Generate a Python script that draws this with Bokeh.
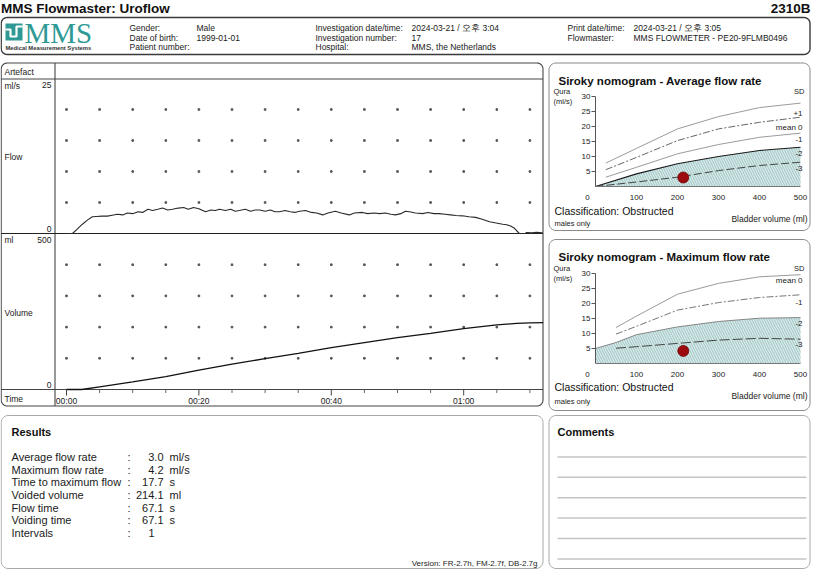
import numpy as np
from bokeh.plotting import figure
from bokeh.models import Range1d
from bokeh.core.properties import value
from bokeh.embed import file_html
from bokeh.resources import INLINE

report_title = "MMS Flowmaster: Uroflow"
report_id = "2310B"
patient_labels = ["Gender:", "Date of birth:", "Patient number:"]
patient_values = ["Male", "1999-01-01", ""]
invest_labels = ["Investigation date/time:", "Investigation number:", "Hospital:"]
invest_values = ["2024-03-21 / 오후 3:04", "17", "MMS, the Netherlands"]
print_labels = ["Print date/time:", "Flowmaster:"]
print_values = ["2024-03-21 / 오후 3:05", "MMS FLOWMETER - PE20-9FLMB0496"]

# flow curve (s, ml/s)
flow_t = [0, 0.9, 1.5, 2.4, 3.2, 3.9, 4.5, 5.4, 6.2, 6.9, 7.7, 8.5, 9.2, 10.0, 10.8,
          11.5, 12.3, 13.0, 13.8, 14.5, 15.3, 16.0, 16.9, 17.7, 18.4, 19.2, 20.0, 21.0,
          21.8, 22.5, 23.1, 24.0, 24.8, 25.5, 26.1, 27.0, 27.8, 28.5, 29.2, 30.0, 30.8,
          31.5, 32.2, 33.0, 33.8, 34.5, 35.2, 36.1, 37.0, 37.8, 38.7, 39.5, 40.6, 41.5,
          42.7, 43.5, 44.7, 45.5, 46.5, 47.3, 48.2, 49.0, 49.7, 50.5, 51.2, 51.8, 52.7,
          53.8, 54.6, 55.5, 56.3, 57.2, 58.0, 58.8, 59.8, 60.8, 61.8, 62.8, 63.9, 64.9,
          65.9, 66.5, 67.1, 67.6, 68.4, 69.3, 69.5, 70.3, 71.0, 71.9]
flow_v = [0.0, 0.0, 0.6, 1.5, 2.2, 2.7, 2.75, 2.8, 2.8, 2.95, 3.1, 3.0, 3.3, 3.2, 3.5,
          3.4, 3.9, 3.7, 3.9, 4.1, 3.8, 3.9, 4.1, 4.2, 3.9, 4.2, 4.0, 3.5,
          3.8, 3.7, 3.9, 3.7, 3.9, 3.6, 3.7, 3.9, 3.6, 3.8, 3.8, 3.6, 3.8,
          3.5, 3.5, 3.7, 3.5, 3.4, 3.6, 3.7, 3.4, 3.3, 3.0, 3.3, 3.6, 3.3,
          3.0, 3.3, 3.4, 3.2, 3.3, 3.2, 3.3, 3.1, 3.0, 3.2, 3.6, 3.5, 3.3,
          3.2, 3.4, 3.2, 3.2, 3.1, 3.0, 2.9, 2.85, 2.7, 2.6, 2.3, 1.9, 1.7,
          1.5, 1.4, 1.2, 0.9, 0.0, 0.0, 0.15, 0.1, 0.2, 0.1]

# volume curve (s, ml)
vol_t = [0, 2.3, 5, 10, 15, 20, 25, 30, 35, 40, 45, 50, 55, 60, 65, 68, 70, 72]
vol_v = [0, 0, 8.6, 24.6, 41.6, 62, 81, 99, 116, 134, 150, 166, 180, 195, 207, 212, 213.5, 214.1]

time_major = [0, 20, 40, 60]
time_labels = ["00:00", "00:20", "00:40", "01:00"]
time_minor = [5, 10, 15, 25, 30, 35, 45, 50, 55, 65, 70]
grid_t = [0, 5, 10, 15, 20, 25, 30, 35, 40, 45, 50, 55, 60, 65, 70]
flow_grid = [5, 10, 15, 20]
vol_grid = [100, 200, 300, 400]

# Siroky nomograms
nomo_x_ticks = [100, 200, 300, 400, 500]
nomo_x_labels = ["100", "200", "300", "400", "500"]
nomo_y_ticks = [5, 10, 15, 20, 25, 30]
nomo_y_labels = ["5", "10", "15", "20", "25", "30"]

avg_p1_x = [25, 100, 200, 300, 400, 500]
avg_p1_y = [7.8, 12.7, 19.2, 23.3, 26.3, 27.8]
avg_m0_x = [25, 100, 200, 300, 400, 500]
avg_m0_y = [5.6, 9.7, 15.3, 19.2, 21.4, 23.1]
avg_n1_x = [25, 100, 200, 300, 400, 500]
avg_n1_y = [3.1, 6.4, 10.9, 14.0, 16.4, 17.8]
avg_n2_x = [0, 100, 200, 300, 400, 500]
avg_n2_y = [0, 4.2, 7.6, 10.0, 12.0, 13.1]
avg_n3_x = [0, 100, 200, 300, 400, 500]
avg_n3_y = [0, 1.5, 3.1, 5.3, 7.0, 8.1]
avg_sd_labels = ["+1", "mean 0", "-1", "-2", "-3"]
avg_sd_label_y = [24.2, 19.6, 15.6, 10.9, 5.9]

max_m0_x = [50, 100, 200, 300, 400, 500]
max_m0_y = [12.0, 15.8, 23.1, 26.7, 28.9, 29.6]
max_n1_x = [50, 100, 200, 300, 400, 500]
max_n1_y = [9.8, 12.4, 17.8, 20.3, 22.0, 22.9]
max_n2_x = [0, 50, 100, 200, 300, 400, 500]
max_n2_y = [5.0, 7.0, 9.6, 12.2, 14.0, 15.1, 15.3]
max_n3_x = [50, 100, 200, 300, 400, 500]
max_n3_y = [5.1, 5.6, 6.7, 7.8, 8.4, 8.1]
max_sd_labels = ["mean 0", "-1", "-2", "-3"]
max_sd_label_y = [27.8, 20.3, 13.3, 6.2]

voided_volume = 214.1
avg_flow = 3.0
max_flow = 4.2

result_labels = ["Average flow rate", "Maximum flow rate", "Time to maximum flow",
                 "Voided volume", "Flow time", "Voiding time", "Intervals"]
result_values = ["3.0", "4.2", "17.7", "214.1", "67.1", "67.1", "1"]
result_units = ["ml/s", "ml/s", "s", "ml", "s", "s", ""]
version_text = "Version: FR-2.7h, FM-2.7f, DB-2.7g"

# ---------------- page ----------------
FONT = "Liberation Sans"
W, H = 811, 569

p = figure(width=W, height=H, x_range=Range1d(0, W), y_range=Range1d(H, 0),
           output_backend="svg", toolbar_location=None,
           x_axis_type=None, y_axis_type=None, min_border=0)
p.outline_line_color = None
p.background_fill_color = "white"
p.border_fill_color = "white"


def lin_range(va, pa, vb, pb, lo, hi):
    k = (vb - va) / (pb - pa)
    return Range1d(start=va + (lo - pa) * k, end=va + (hi - pa) * k)


T0_PX, T_PER_S = 66.0, 6.62
NX0, NX1 = 595.0, 800.0
p.extra_x_ranges = {
    "time": lin_range(0, T0_PX, 20, T0_PX + 20 * T_PER_S, 0, W),
    "nomo": lin_range(0, NX0, 500, NX1, 0, W),
}
p.extra_y_ranges = {
    "flow": lin_range(0, 233, 25, 78, H, 0),
    "vol": lin_range(0, 389, 500, 233, H, 0),
    "avg": lin_range(0, 186, 30, 96, H, 0),
    "max": lin_range(0, 363, 30, 273, H, 0),
}


def text(xs, ys, texts, size=9.0, align="left", bold=False, color="#1a1a1a",
         font=FONT, baseline="middle", **kw):
    if not isinstance(texts, (list, tuple)):
        texts = [texts]
    n = len(texts)
    xs = list(xs) if isinstance(xs, (list, tuple)) else [xs] * n
    ys = list(ys) if isinstance(ys, (list, tuple)) else [ys] * n
    p.text(x=xs, y=ys, text=list(texts), text_font=value(font),
           text_font_size=f"{size}px", text_align=align, text_baseline=baseline,
           text_color=color, text_font_style="bold" if bold else "normal", **kw)


def rbox(x0, y0, x1, y1, r, color="#555", width=1.0):
    xs, ys = [], []
    corners = [(x1 - r, y0 + r, 90, 0), (x1 - r, y1 - r, 0, -90),
               (x0 + r, y1 - r, -90, -180), (x0 + r, y0 + r, 180, 90)]
    for cx, cy, a0, a1 in corners:
        th = np.radians(np.linspace(a0, a1, 9))
        xs += list(cx + r * np.cos(th))
        ys += list(cy - r * np.sin(th))
    xs.append(xs[0])
    ys.append(ys[0])
    p.line(xs, ys, line_color=color, line_width=width)


# ---- header ----
text(0.5, 8, report_title, size=13.5, bold=True, color="#111")
text(810, 8, report_id, size=13.5, bold=True, align="right", color="#111")
rbox(0.7, 17, 809.5, 54, 6, color="#3a3a3a", width=1.4)

# logo
p.quad(left=[5], right=[22], top=[23], bottom=[40], fill_color="#2f9a95", line_color=None)
p.line([5, 10, 10, 16, 16, 22], [29, 29, 36, 36, 26, 26], line_color="white", line_width=2.2)
text(24, 32.5, "MMS", size=29, color="#2f9a95", font="Liberation Serif")
text(5, 47, "Medical Measurement Systems", size=5.8, bold=True, color="#333")

rows_y = [27.3, 37, 46.7]
text(129, rows_y, patient_labels, size=8.5)
text(196, rows_y, patient_values, size=8.5)
text(315, rows_y, invest_labels, size=8.5)
text(411, rows_y, invest_values, size=8.5)
text(567, rows_y[:2], print_labels, size=8.5)
text(633, rows_y[:2], print_values, size=8.5)

# ---- main flow/volume panel ----
rbox(0.7, 62.5, 542.5, 405.5, 6, color="#444", width=1.1)
p.line([54.5, 54.5], [62.5, 405.5], line_color="#444", line_width=1.1)
for yy in (78.5, 389.0):
    p.line([0.7, 542.5], [yy, yy], line_color="#444", line_width=1.0)
p.line([0.7, 542.5], [233, 233], line_color="#222", line_width=1.2)

text(4, 71, "Artefact", size=8.5)
text(4, 85, "ml/s", size=8.5)
text(51, 84, "25", size=8.5, align="right")
text(4, 156.5, "Flow", size=8.5)
text(51, 228.5, "0", size=8.5, align="right")
text(4, 239, "ml", size=8.5)
text(51, 239, "500", size=8.5, align="right")
text(4, 312.5, "Volume", size=8.5)
text(51, 384.5, "0", size=8.5, align="right")
text(4, 398.5, "Time", size=8.5)

gx_f = [t for t in grid_t for _ in flow_grid]
gy_f = [f for _ in grid_t for f in flow_grid]
p.scatter(gx_f, gy_f, x_range_name="time", y_range_name="flow", marker="square",
          size=1.6, color="#555")
gx_v = [t for t in grid_t for _ in vol_grid]
gy_v = [v for _ in grid_t for v in vol_grid]
p.scatter(gx_v, gy_v, x_range_name="time", y_range_name="vol", marker="square",
          size=1.6, color="#555")

p.line(flow_t, flow_v, x_range_name="time", y_range_name="flow",
       line_color="#2a2a2a", line_width=1.1)
p.line(vol_t, vol_v, x_range_name="time", y_range_name="vol",
       line_color="#111", line_width=1.3)

p.segment(x0=time_major, y0=[389] * len(time_major), x1=time_major,
          y1=[395] * len(time_major), x_range_name="time", line_color="#444")
p.segment(x0=time_minor, y0=[389] * len(time_minor), x1=time_minor,
          y1=[392.5] * len(time_minor), x_range_name="time", line_color="#666")
text(time_major, 400, time_labels, size=8.5, align="center", x_range_name="time")


# ---- Siroky nomograms ----
def nomogram(yname, box_top, box_bot, title, title_y, qura_y, class_y, males_y,
             bladder_y, hatch_x, hatch_y, curves, sd_labels, sd_label_y, dot_y):
    rbox(548.5, box_top, 809.5, box_bot, 7, color="#8a8a8a", width=1.0)
    text(558, title_y, title, size=11.5, bold=True, color="#111")
    text(553, qura_y, "Qura", size=7.5)
    text(553, qura_y + 10, "(ml/s)", size=7.5)
    text(804, qura_y, "SD", size=7.5, align="right")

    p.varea(x=hatch_x, y1=[0] * len(hatch_x), y2=hatch_y, x_range_name="nomo",
            y_range_name=yname, fill_color="#d7ebea", fill_alpha=1.0,
            hatch_pattern="\\", hatch_color="#6f9f9e", hatch_weight=0.6,
            hatch_scale=5, hatch_alpha=0.9)
    for xs, ys, col, dash, lw in curves:
        p.line(xs, ys, x_range_name="nomo", y_range_name=yname,
               line_color=col, line_dash=dash, line_width=lw)

    # axes
    p.line([0, 0], [0, 30], x_range_name="nomo", y_range_name=yname,
           line_color="#555", line_width=1)
    p.line([0, 500], [0, 0], x_range_name="nomo", y_range_name=yname,
           line_color="#777", line_width=1)
    p.segment(x0=[NX0 - 4] * len(nomo_y_ticks), y0=nomo_y_ticks,
              x1=[NX0] * len(nomo_y_ticks), y1=nomo_y_ticks,
              y_range_name=yname, line_color="#555")
    text([0] * len(nomo_y_ticks), nomo_y_ticks, nomo_y_labels, size=8,
         align="right", x_range_name="nomo", y_range_name=yname, x_offset=-5)
    text(nomo_x_ticks, [0] * len(nomo_x_ticks), nomo_x_labels, size=8,
         align="center", x_range_name="nomo", y_range_name=yname, y_offset=11)
    text([0], [0], ["0"], size=8, align="center", x_range_name="nomo",
         y_range_name=yname, x_offset=-8, y_offset=11)
    text([500] * len(sd_labels), sd_label_y, sd_labels, size=8, align="right",
         x_range_name="nomo", y_range_name=yname, x_offset=2)

    p.scatter([voided_volume], [dot_y], x_range_name="nomo", y_range_name=yname,
              size=11, fill_color="#9c0a0e", line_color="#6e0508", line_width=0.8)

    text(554, class_y, "Classification: Obstructed", size=10.5, color="#111")
    text(554, males_y, "males only", size=7.5, color="#222")
    text(807, bladder_y, "Bladder volume (ml)", size=8.5, align="right")


nomogram("avg", 62.5, 230, "Siroky nomogram - Average flow rate", 80, 91, 210, 223, 218,
         avg_n2_x, avg_n2_y,
         [(avg_p1_x, avg_p1_y, "#8f8f8f", "solid", 0.9),
          (avg_m0_x, avg_m0_y, "#555555", "7 2 2 2", 0.9),
          (avg_n1_x, avg_n1_y, "#8f8f8f", "solid", 0.9),
          (avg_n2_x, avg_n2_y, "#1a1a1a", "solid", 1.1),
          (avg_n3_x, avg_n3_y, "#333333", "8 3", 0.9)],
         avg_sd_labels, avg_sd_label_y, avg_flow)

nomogram("max", 239, 410, "Siroky nomogram - Maximum flow rate", 256, 268, 386, 401, 395,
         max_n2_x, max_n2_y,
         [(max_m0_x, max_m0_y, "#8f8f8f", "solid", 0.9),
          (max_n1_x, max_n1_y, "#666666", "7 2 2 2", 0.9),
          (max_n2_x, max_n2_y, "#7a7a7a", "solid", 0.9),
          (max_n3_x, max_n3_y, "#333333", "10 3", 0.9)],
         max_sd_labels, max_sd_label_y, max_flow)

# ---- results ----
rbox(0.7, 415, 542.5, 568, 7, color="#a8a8a8", width=1.0)
text(11, 431, "Results", size=11, bold=True, color="#111")
res_y = [456.5, 469, 481.7, 494.3, 507, 519.7, 532.3]
text(11, res_y, result_labels, size=11)
text(127, res_y, [":"] * len(res_y), size=11)
val_off = [0 if "." in v else -9 for v in result_values]
p.text(x=[163] * len(res_y), y=res_y, text=result_values, x_offset=val_off,
       text_font=value(FONT), text_font_size="11px", text_align="right",
       text_baseline="middle", text_color="#1a1a1a")
text(169, res_y, result_units, size=11)
text(537, 563, version_text, size=8, align="right", color="#222")

# ---- comments ----
rbox(548.5, 415, 809.5, 568, 7, color="#a8a8a8", width=1.0)
text(557, 431, "Comments", size=11, bold=True, color="#111")
for yy in (456.6, 476.7, 497.2, 517.6, 538.1, 558.5):
    p.line([557, 806], [yy, yy], line_color="#c4c4c4", line_width=1.5)

open("out.html", "w").write(file_html(p, INLINE))
